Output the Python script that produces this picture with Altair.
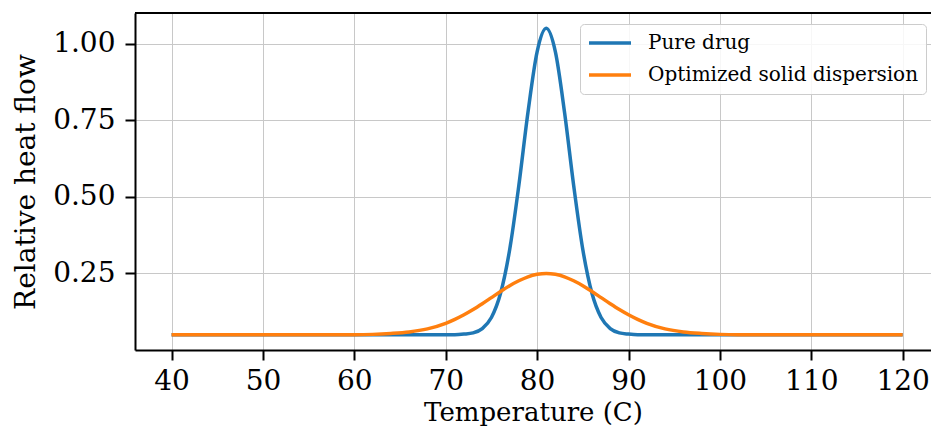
import altair as alt
import pandas as pd

temps = [40, 45, 50, 55, 60, 62, 64, 66, 68, 70, 71, 72, 73, 74, 75, 76, 77, 78, 79, 80,
         81, 82, 83, 84, 85, 86, 87, 88, 89, 90, 91, 92, 94, 96, 98, 100, 102, 105, 110, 115, 120]

pure_drug = [0.05, 0.05, 0.05, 0.05, 0.05, 0.05, 0.05, 0.05, 0.05, 0.05, 0.05, 0.052, 0.056, 0.070,
             0.106, 0.185, 0.328, 0.537, 0.776, 0.973, 1.05, 0.973, 0.776, 0.537, 0.328, 0.185,
             0.106, 0.070, 0.056, 0.052, 0.05, 0.05, 0.05, 0.05, 0.05, 0.05, 0.05, 0.05, 0.05, 0.05, 0.05]

solid_disp = [0.05, 0.05, 0.05, 0.05, 0.050, 0.051, 0.054, 0.059, 0.069, 0.087, 0.100, 0.115, 0.132,
              0.151, 0.171, 0.191, 0.210, 0.226, 0.239, 0.247, 0.25, 0.247, 0.239, 0.226, 0.210,
              0.191, 0.171, 0.151, 0.132, 0.115, 0.100, 0.087, 0.069, 0.059, 0.054, 0.051, 0.050,
              0.05, 0.05, 0.05, 0.05]

series_names = ["Pure drug", "Optimized solid dispersion"]
series_colors = ["#1f77b4", "#ff7f0e"]
x_ticks = [40, 50, 60, 70, 80, 90, 100, 110, 120]
y_ticks = [0.25, 0.5, 0.75, 1.0]

rows = []
for t, v in zip(temps, pure_drug):
    rows.append({"Temperature": t, "Heat": v, "Series": series_names[0]})
for t, v in zip(temps, solid_disp):
    rows.append({"Temperature": t, "Heat": v, "Series": series_names[1]})
df = pd.DataFrame(rows)

W, H = 796, 337
FONT = "DejaVu Serif"

lines = alt.Chart(df).mark_line(strokeWidth=3.5, interpolate="monotone").encode(
    x=alt.X("Temperature:Q", title="Temperature (C)",
            scale=alt.Scale(domain=[36, 123.1], nice=False, zero=False),
            axis=alt.Axis(values=x_ticks, format="d", labelPadding=7,
                          titlePadding=4, titleFontSize=26)),
    y=alt.Y("Heat:Q", title="Relative heat flow",
            scale=alt.Scale(domain=[0, 1.10], nice=False, zero=False),
            axis=alt.Axis(values=y_ticks, format=".2f", titlePadding=12)),
    color=alt.Color("Series:N", sort=series_names,
                    scale=alt.Scale(domain=series_names, range=series_colors),
                    legend=alt.Legend(title=None, orient="none", legendX=445, legendY=11,
                                      symbolType="stroke", symbolSize=1764, symbolStrokeWidth=3.5,
                                      clipHeight=24, rowPadding=8, padding=7,
                                      labelOffset=15, labelFont=FONT, labelFontSize=20,
                                      labelLimit=500,
                                      labelColor="black", strokeColor="#cccccc",
                                      cornerRadius=4, fillColor="rgba(255,255,255,0.85)")),
)

top_rule = alt.Chart(df).mark_rule(color="black", strokeWidth=2).encode(
    x=alt.value(0), x2=alt.value(W), y=alt.value(0)
)

chart = alt.layer(lines, top_rule).properties(
    width=W, height=H,
    autosize=alt.AutoSizeParams(type="none"),
    padding={"left": 127, "top": 5, "right": 0, "bottom": 77},
).configure_view(stroke=None).configure_axis(
    domainColor="black", domainWidth=2,
    tickColor="black", tickSize=10, tickWidth=2,
    labelFont=FONT, labelFontSize=28, labelColor="black", labelPadding=10,
    titleFont=FONT, titleFontSize=28, titleFontWeight="normal", titleColor="black",
    gridColor="#c8c8c8", gridWidth=1,
)

chart.save("out.html", embed_options={"renderer": "svg", "actions": False})
